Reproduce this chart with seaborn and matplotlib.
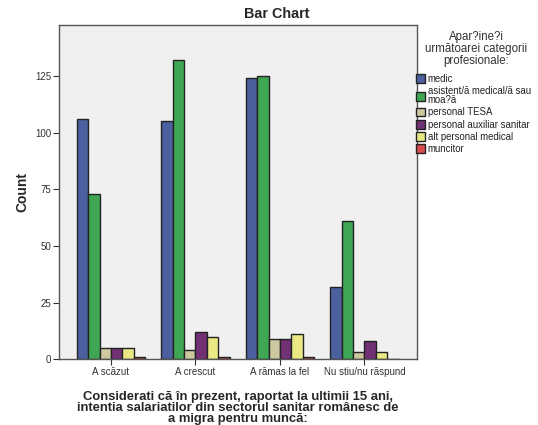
import matplotlib
matplotlib.use("Agg")
import matplotlib.pyplot as plt
import seaborn as sns
import pandas as pd

categories = ["A scăzut", "A crescut", "A rămas la fel", "Nu stiu/nu răspund"]
groups = ["medic", "asistent/ă medical/ă sau\nmoa?ă", "personal TESA",
          "personal auxiliar sanitar", "alt personal medical", "muncitor"]
medic = [106, 105, 124, 32]
asistent = [73, 132, 125, 61]
tesa = [5, 4, 9, 3]
auxiliar = [5, 12, 9, 8]
alt_personal = [5, 10, 11, 3]
muncitor = [1, 1, 1, 0]
yticks = [0, 25, 50, 75, 100, 125]

colors = ["#3E58AC", "#2EB848", "#D4CE99", "#7B267F", "#FBF874", "#EF3438"]

series = [medic, asistent, tesa, auxiliar, alt_personal, muncitor]
rows = []
for g, vals in zip(groups, series):
    for c, v in zip(categories, vals):
        rows.append({"cat": c, "grp": g, "count": v})
df = pd.DataFrame(rows)

sns.set_theme(style="white")
plt.rcParams["font.family"] = ["Liberation Sans", "DejaVu Sans"]

fig = plt.figure(figsize=(5.38, 4.25), dpi=100)
ax = fig.add_axes([0.1097, 0.1546, 0.665, 0.7864])
ax.set_facecolor("#F0F0F0")

sns.barplot(data=df, x="cat", y="count", hue="grp", order=categories,
            hue_order=groups, palette=colors, width=0.81, gap=0,
            edgecolor="#222222", linewidth=1.0, ax=ax, legend=True)

ax.set_xlim(-0.615, 3.62)
ax.set_ylim(0, 147.5)
ax.set_yticks(yticks)
ax.set_yticklabels([str(t) for t in yticks])
ax.tick_params(axis="both", which="both", direction="out", length=4,
               width=0.8, color="#333333", labelsize=7, labelcolor="#333333",
               pad=1.5, left=True, bottom=True)
for s in ax.spines.values():
    s.set_color("#555555")
    s.set_linewidth(1.0)

ax.set_ylabel("Count", fontsize=10, fontweight="bold", labelpad=4)
ax.set_xlabel("Considerati că în prezent, raportat la ultimii 15 ani,\n"
              "intentia salariatilor din sectorul sanitar românesc de\n"
              "a migra pentru muncă:",
              fontsize=9.4, fontweight="bold", labelpad=10, linespacing=0.9)

fig.text(0.515, 0.967, "Bar Chart", ha="center", va="center",
         fontsize=10.4, fontweight="bold")

# legend title drawn separately so its spacing to the entries can be set
fig.text(476 / 538, 1 - 31 / 425,
         "Apar?ine?i\nurmătoarei categorii\nprofesionale:",
         ha="center", va="top", fontsize=8.3, color="#333333",
         linespacing=1.0)

handles, labels = ax.get_legend_handles_labels()
ax.legend_.remove()
leg = fig.legend(handles, labels,
                 loc="upper left", bbox_to_anchor=(416 / 538, 1 - 74 / 425),
                 frameon=False, fontsize=6.9,
                 handlelength=0.9, handleheight=1.0, handletextpad=0.3,
                 labelspacing=0.22, borderaxespad=0, borderpad=0)
for t in leg.get_texts():
    t.set_color("#222222")
    t.set_linespacing(0.9)

fig.savefig("out.png", dpi=100)
